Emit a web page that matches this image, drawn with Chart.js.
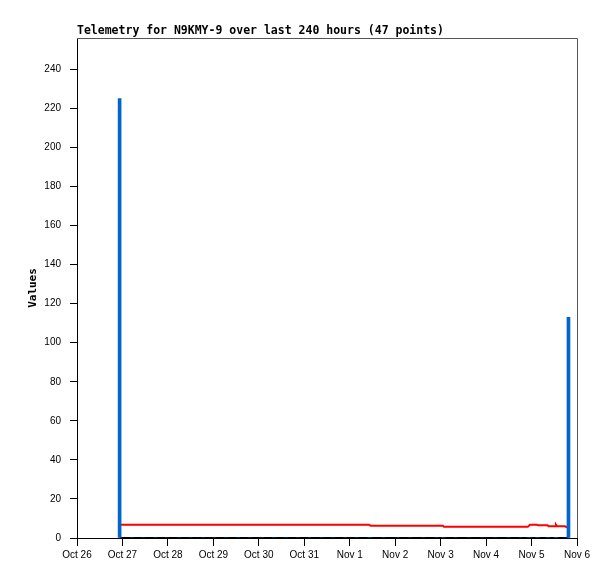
<!DOCTYPE html>
<html>
<head>
<meta charset="utf-8">
<title>Telemetry for N9KMY-9</title>
<script src="https://cdn.jsdelivr.net/npm/chart.js@4"></script>
<style>
  html, body { margin: 0; padding: 0; background: #fff; }
  canvas { display: block; }
</style>
</head>
<body>
<canvas id="myChart" width="615" height="579"></canvas>
<script>
// hours since Oct 26 00:00
const hours = [
  22.5, 28.8, 35.0, 41.3, 47.6, 53.8, 60.1, 66.4, 72.6, 78.9, 85.2,
  91.4, 97.7, 104.0, 110.2, 116.5, 122.7, 129.0, 135.3, 141.5, 147.8, 154.1,
  155.0, 162.0, 169.0, 176.0, 183.0, 190.0, 193.2,
  193.8, 200.0, 207.0, 214.0, 221.0, 228.0, 234.0, 238.0,
  239.2, 242.8,
  243.4, 248.4,
  249.0, 252.4, 252.9, 253.4, 257.7, 259.5
]
const redValues = [
  6.8, 6.8, 6.8, 6.8, 6.8, 6.8, 6.8, 6.8, 6.8, 6.8, 6.8,
  6.8, 6.8, 6.8, 6.8, 6.8, 6.8, 6.8, 6.8, 6.8, 6.8, 6.8,
  6.3, 6.3, 6.3, 6.3, 6.3, 6.3, 6.3,
  5.7, 5.7, 5.7, 5.7, 5.7, 5.7, 5.7, 5.7,
  6.8, 6.8,
  6.5, 6.5,
  6.0, 6.0, 6.8, 6.0, 6.0, 5.0
]
const blueValues = [
  225, 0, 0, 0, 0, 0, 0, 0, 0, 0, 0,
  0, 0, 0, 0, 0, 0, 0, 0, 0, 0, 0,
  0, 0, 0, 0, 0, 0, 0,
  0, 0, 0, 0, 0, 0, 0, 0,
  0, 0,
  0, 0,
  0, 0, 0, 0, 0, 113
]
const blackValues = hours.map(() => 0)
const xTickLabels = ['Oct 26', 'Oct 27', 'Oct 28', 'Oct 29', 'Oct 30', 'Oct 31',
  'Nov 1', 'Nov 2', 'Nov 3', 'Nov 4', 'Nov 5', 'Nov 6']
const yTicks = [0, 20, 40, 60, 80, 100, 120, 140, 160, 180, 200, 220, 240]

const titleText = 'Telemetry for N9KMY-9 over last 240 hours (47 points)'

const pts = vals => hours.map((h, i) => ({ x: h, y: vals[i] }))

const frame = {
  id: 'frame',
  afterDraw(chart) {
    const { ctx, chartArea: a } = chart
    ctx.save()
    ctx.strokeStyle = '#555'
    ctx.lineWidth = 1
    ctx.beginPath()
    ctx.moveTo(a.left, a.top + 0.5)
    ctx.lineTo(a.right + 0.5, a.top + 0.5)
    ctx.lineTo(a.right + 0.5, a.bottom)
    ctx.stroke()
    ctx.fillStyle = '#000'
    ctx.font = 'bold 11.5px "DejaVu Sans Mono"'
    ctx.textBaseline = 'middle'
    ctx.textAlign = 'left'
    ctx.fillText(titleText, a.left, 31)
    ctx.restore()
  }
}

const tickFont = { family: '"Liberation Sans", sans-serif', size: 10 }

let ctx = document.getElementById('myChart')
let chart = new Chart(ctx, {
  type: 'line',
  data: {
    datasets: [{
      type: 'bar',
      data: pts(blueValues),
      backgroundColor: '#0066cc',
      borderWidth: 0,
      barThickness: 3,
      order: 0
    }, {
      data: pts(redValues),
      borderColor: '#ff0000',
      borderWidth: 2,
      pointRadius: 0,
      tension: 0,
      order: 1
    }, {
      data: pts(blackValues),
      borderColor: '#000000',
      borderWidth: 2,
      pointRadius: 0,
      clip: false,
      order: 2
    }]
  },
  options: {
    responsive: false,
    animation: false,
    events: [],
    layout: { padding: { top: 38, right: 38, left: 0, bottom: 0 } },
    plugins: { legend: { display: false }, tooltip: { enabled: false }, title: { display: false } },
    scales: {
      x: {
        type: 'linear',
        min: 0,
        max: 264,
        offset: false,
        afterFit: s => { s.height = 41 },
        ticks: {
          stepSize: 24,
          autoSkip: false,
          maxRotation: 0,
          padding: 3,
          color: '#000',
          font: tickFont,
          callback: v => xTickLabels[v / 24]
        },
        grid: { offset: false, drawOnChartArea: false, drawTicks: true, tickLength: 8, tickColor: '#000' },
        border: { display: true, color: '#000', width: 1 }
      },
      y: {
        min: 0,
        max: 256,
        afterFit: s => { s.width = 77 },
        afterBuildTicks: s => { s.ticks = yTicks.map(v => ({ value: v })) },
        ticks: { padding: 9, color: '#000', font: tickFont },
        grid: { drawOnChartArea: false, drawTicks: true, tickLength: 7, tickColor: '#000' },
        border: { display: true, color: '#000', width: 1 },
        title: {
          display: true,
          text: 'Values',
          color: '#000',
          font: { family: '"DejaVu Sans Mono"', size: 11, weight: 'bold' },
          padding: { top: 27, bottom: 0 }
        }
      }
    }
  },
  plugins: [frame]
})
</script>
</body>
</html>
